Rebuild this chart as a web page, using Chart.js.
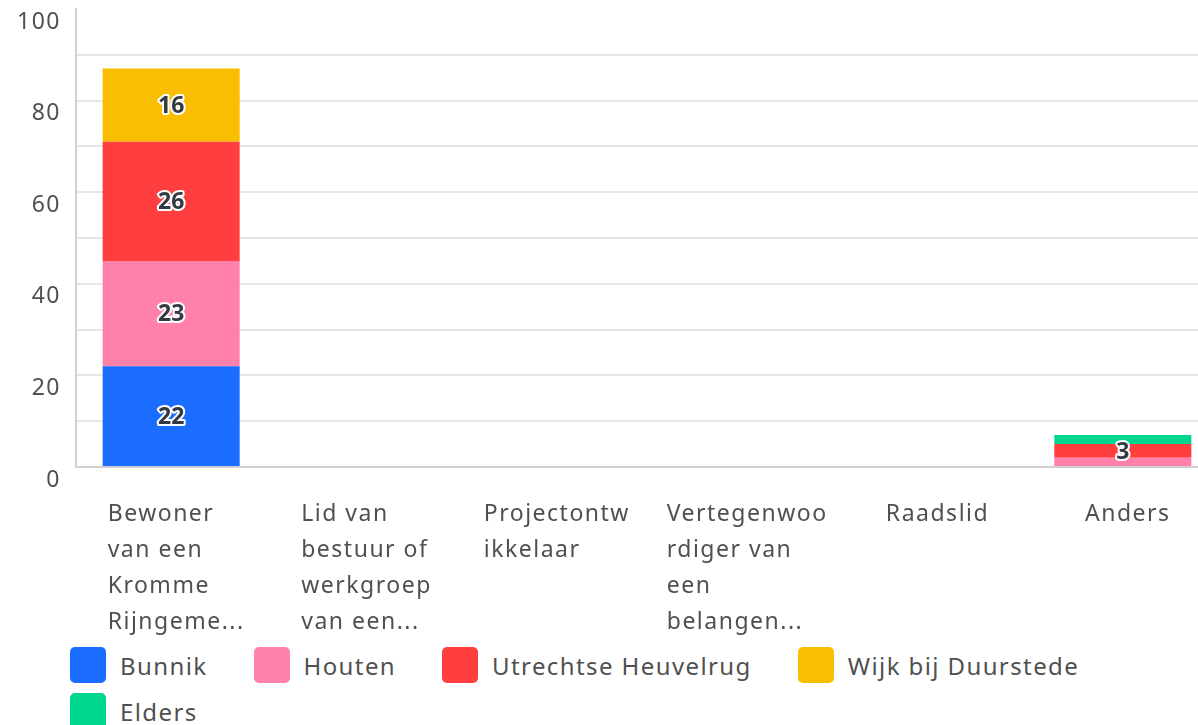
<!DOCTYPE html>
<html>
<head>
<meta charset="utf-8">
<script src="https://cdn.jsdelivr.net/npm/chart.js@4/dist/chart.umd.min.js"></script>
<style>
    html, body { margin: 0; padding: 0; background: #fff; overflow: hidden; }
    #wrap { position: relative; width: 1198px; height: 725px; overflow: hidden; }
    #chart-box { position: absolute; left: 0; top: 0; width: 1218px; height: 640px; }
    #legend { position: absolute; left: 70px; top: 647px; width: 1060px; display: flex; flex-wrap: wrap; row-gap: 10px; }
    .item { display: flex; align-items: center; margin-right: 46px; height: 36px; font: 24px "Noto Sans", sans-serif; letter-spacing: 1.4px; color: #505050; }
    .swatch { width: 36px; height: 36px; border-radius: 5px; margin-right: 14px; }
</style>
</head>
<body>
<div id="wrap">
    <div id="chart-box"><canvas id="myChart"></canvas></div>
    <div id="legend"></div>
</div>
<script>
// Chart data
const categories = [
    ["Bewoner", "van een", "Kromme", "Rijngeme..."],
    ["Lid van", "bestuur of", "werkgroep", "van een..."],
    ["Projectontw", "ikkelaar"],
    ["Vertegenwoo", "rdiger van", "een", "belangen..."],
    ["Raadslid"],
    ["Anders"]
];
const seriesNames = ["Bunnik", "Houten", "Utrechtse Heuvelrug", "Wijk bij Duurstede", "Elders"];
const bunnik = [22, 0, 0, 0, 0, 0];
const houten = [23, 0, 0, 0, 0, 2];
const utrechtseHeuvelrug = [26, 0, 0, 0, 0, 3];
const wijkBijDuurstede = [16, 0, 0, 0, 0, 0];
const elders = [0, 0, 0, 0, 0, 2];
const yTicks = [0, 20, 40, 60, 80, 100];

const colors = ["#1b6dff", "#ff80a9", "#ff3f3f", "#f9be00", "#00d68f"];
const seriesValues = [bunnik, houten, utrechtseHeuvelrug, wijkBijDuurstede, elders];

const FONT = '"Noto Sans", sans-serif';

// Draws the x labels (left aligned lines, centered block) and the segment values
const labelPlugin = {
    id: "labelPlugin",
    beforeLayout(chart) {
        chart.ctx.letterSpacing = "1.5px";
    },
    beforeDraw(chart) {
        chart.ctx.letterSpacing = "1.5px";
    },
    afterDatasetsDraw(chart) {
        const ctx = chart.ctx;
        ctx.save();
        ctx.letterSpacing = "0px";
        ctx.font = "bold 23px " + FONT;
        ctx.textAlign = "center";
        ctx.textBaseline = "middle";
        ctx.lineJoin = "round";
        chart.data.datasets.forEach((ds, i) => {
            const meta = chart.getDatasetMeta(i);
            meta.data.forEach((bar, j) => {
                if (ds.data[j] < 3) return;
                const y = (bar.y + bar.base) / 2;
                ctx.strokeStyle = "#fff";
                ctx.lineWidth = 4;
                ctx.strokeText(ds.data[j], bar.x, y + 1);
                ctx.fillStyle = "#333a44";
                ctx.fillText(ds.data[j], bar.x, y + 1);
            });
        });
        ctx.restore();
    },
    afterDraw(chart) {
        const ctx = chart.ctx;
        const xScale = chart.scales.x;
        ctx.save();
        ctx.letterSpacing = "1.5px";
        ctx.font = "23px " + FONT;
        ctx.fillStyle = "#505050";
        ctx.textAlign = "left";
        ctx.textBaseline = "middle";
        categories.forEach((lines, i) => {
            const cx = xScale.getPixelForValue(i);
            const w = Math.max(...lines.map((l) => ctx.measureText(l).width));
            lines.forEach((line, k) => {
                ctx.fillText(line, cx - w / 2 + 5, xScale.bottom + 47 + k * 36);
            });
        });
        ctx.restore();
    }
};

const ctx = document.getElementById("myChart").getContext("2d");
const chart = new Chart(ctx, {
    type: "bar",
    data: {
        labels: categories.map((c) => c.join(" ")),
        datasets: seriesNames.map((name, i) => ({
            label: name,
            data: seriesValues[i],
            backgroundColor: colors[i],
            barPercentage: 0.72,
            categoryPercentage: 1
        }))
    },
    options: {
        responsive: true,
        maintainAspectRatio: false,
        animation: false,
        layout: { padding: { top: 9, bottom: 173, left: 0, right: 0 } },
        plugins: {
            legend: { display: false },
            tooltip: { enabled: false }
        },
        scales: {
            x: {
                stacked: true,
                grid: { display: false, drawTicks: false },
                border: { display: true, color: "#d0d0d0", width: 2 },
                ticks: { display: false }
            },
            y: {
                stacked: true,
                min: 0,
                max: 100,
                afterFit: (s) => { s.width = 76; s.paddingTop = 0; s.paddingBottom = 0; },
                grid: {
                    drawTicks: false,
                    color: (c) => (c.tick && (c.tick.value === 100 || c.tick.value === 0) ? "rgba(0,0,0,0)" : "#e6e6e6"),
                    lineWidth: 2
                },
                border: { display: true, color: "#d0d0d0", width: 2 },
                ticks: {
                    stepSize: 10,
                    padding: 15,
                    labelOffset: 13,
                    color: "#505050",
                    font: { family: FONT, size: 23 },
                    callback: (v) => (yTicks.includes(v) ? v : "")
                }
            }
        }
    },
    plugins: [labelPlugin]
});

// HTML legend from the chart datasets
const legendEl = document.getElementById("legend");
chart.data.datasets.forEach((ds) => {
    const item = document.createElement("div");
    item.className = "item";
    const sw = document.createElement("span");
    sw.className = "swatch";
    sw.style.background = ds.backgroundColor;
    item.appendChild(sw);
    item.appendChild(document.createTextNode(ds.label));
    legendEl.appendChild(item);
});
</script>
</body>
</html>
